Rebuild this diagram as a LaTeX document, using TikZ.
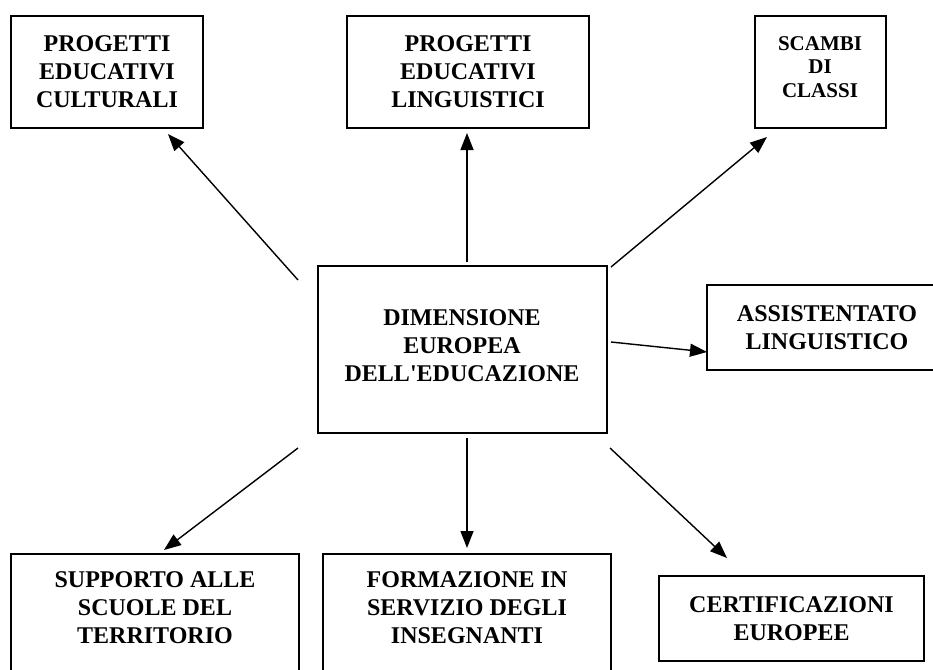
\documentclass[tikz,border=0pt]{standalone}
\usepackage{fontspec}
\setmainfont{Liberation Serif}
\usetikzlibrary{arrows.meta}
\begin{document}
\begin{tikzpicture}[x=1pt,y=-1pt,
  box/.style={draw=black, line width=2pt, fill=white, inner sep=0pt, align=center,
    font=\bfseries\fontsize{24}{28}\selectfont},
  smalltxt/.style={align=center, inner sep=0pt, font=\bfseries\fontsize{21}{23.5}\selectfont},
  bigtxt/.style={align=center, inner sep=0pt, font=\bfseries\fontsize{24}{28}\selectfont},
  arr/.style={line width=1.4pt, -{Triangle[length=17pt,width=13pt]}}]
\useasboundingbox (0,0) rectangle (933,669);
% boxes
\node[box, minimum width=192, minimum height=112] (b1) at (107,72) {PROGETTI\\EDUCATIVI\\CULTURALI};
\node[box, minimum width=242, minimum height=112] (b2) at (468,72) {PROGETTI\\EDUCATIVI\\LINGUISTICI};
\node[box, minimum width=131, minimum height=112] (b3) at (820.5,72) {};
\node[smalltxt] (t3) at (820,67) {SCAMBI\\DI\\CLASSI};
\node[box, minimum width=240, minimum height=85] (b4) at (827,327.5) {ASSISTENTATO\\LINGUISTICO};
\node[box, minimum width=289, minimum height=167] (c) at (462.5,349.5) {};
\node[bigtxt] (tc) at (462,346) {DIMENSIONE\\EUROPEA\\DELL\textquotesingle EDUCAZIONE};
\node[box, minimum width=288, minimum height=160, anchor=north] (b5) at (155,553) {};
\node[bigtxt] (t5) at (155,608) {SUPPORTO ALLE\\SCUOLE DEL\\TERRITORIO};
\node[box, minimum width=288, minimum height=160, anchor=north] (b6) at (467,553) {};
\node[bigtxt] (t6) at (467,608) {FORMAZIONE IN\\SERVIZIO DEGLI\\INSEGNANTI};
\node[box, minimum width=265, minimum height=85] (b7) at (791.5,618.5) {CERTIFICAZIONI\\EUROPEE};
% arrow end points
\coordinate (s1) at (298,280); \coordinate (e1) at (168,134);
\coordinate (s2) at (467,262); \coordinate (e2) at (467,133);
\coordinate (s3) at (611,267); \coordinate (e3) at (767,137);
\coordinate (s4) at (611,342); \coordinate (e4) at (707,352);
\coordinate (s5) at (298,448); \coordinate (e5) at (164,550);
\coordinate (s6) at (467,438); \coordinate (e6) at (467,548);
\coordinate (s7) at (610,448); \coordinate (e7) at (727,558);
\draw[arr] (s1) -- (e1);
\draw[arr] (s2) -- (e2);
\draw[arr] (s3) -- (e3);
\draw[arr] (s4) -- (e4);
\draw[arr] (s5) -- (e5);
\draw[arr] (s6) -- (e6);
\draw[arr] (s7) -- (e7);
\end{tikzpicture}
\end{document}
